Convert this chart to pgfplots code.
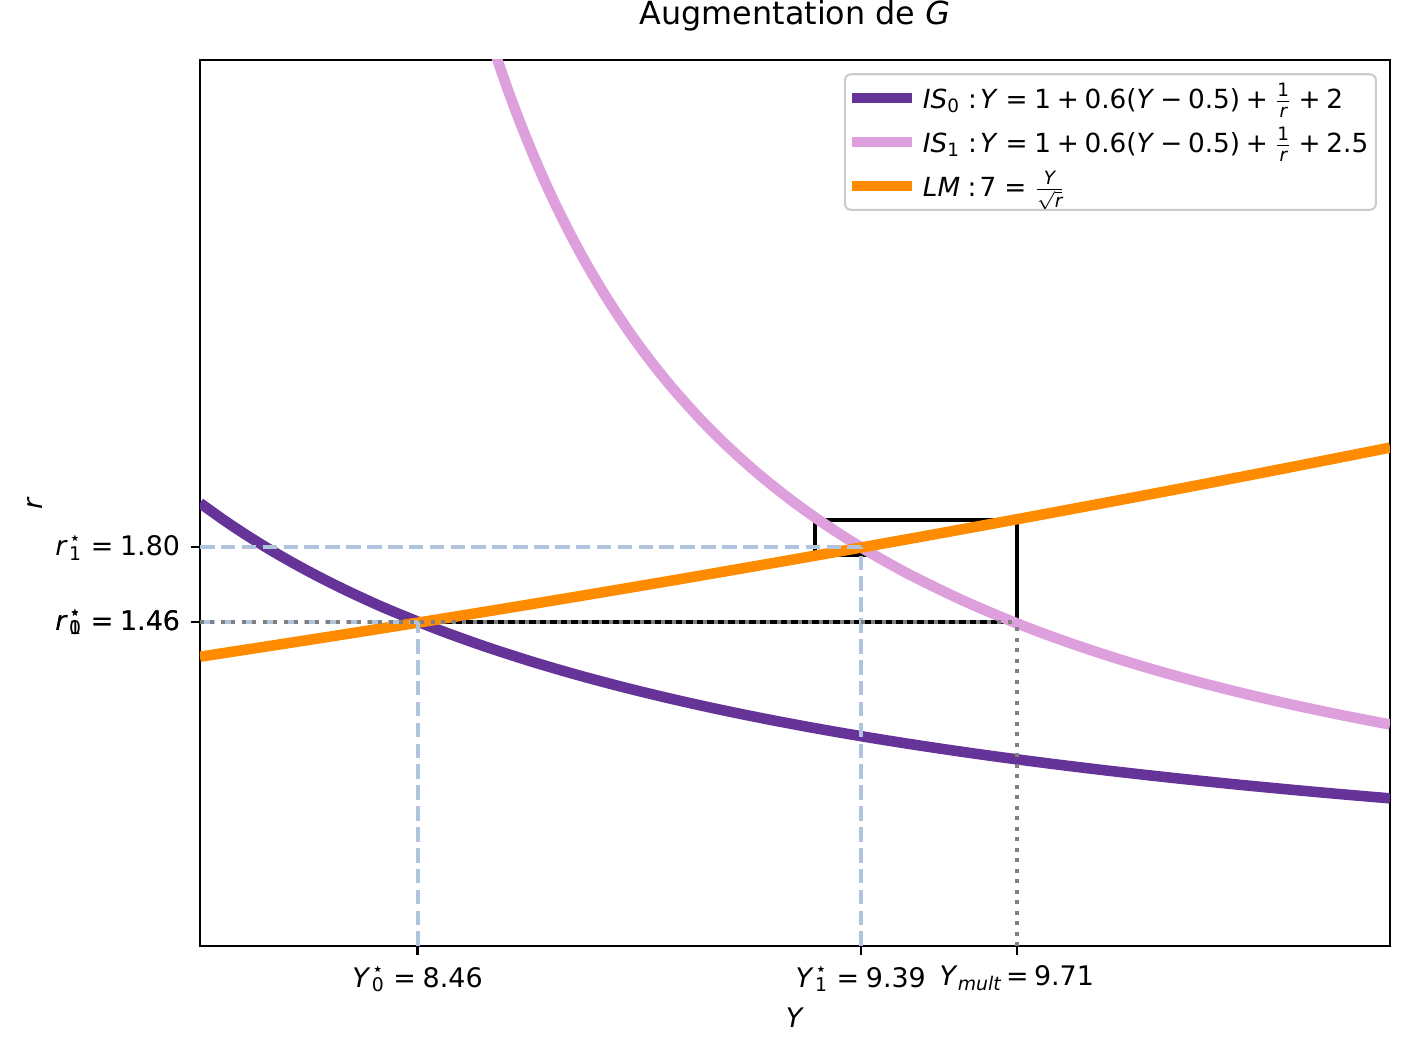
\documentclass[border=0pt]{standalone}
\usepackage{fontspec}
\setmainfont{DejaVu Sans}
\usepackage{amsmath}
\usepackage{pgfplots}
\pgfplotsset{compat=1.18}

\definecolor{rpurple}{HTML}{663399}
\definecolor{plumc}{HTML}{DDA0DD}
\definecolor{dorange}{HTML}{FF8C00}
\definecolor{lsblue}{HTML}{B0C4DE}
\definecolor{mgray}{HTML}{808080}

\newcommand\vs[3]{\textit{#1}\kern0.05em\rlap{\textsuperscript{#3}}\textsubscript{#2}}
\newcommand\eq{\kern0.3em=\kern0.25em}
\newcommand\eqs{\kern0.12em=\kern0.2em}
\newcommand\pl{\kern0.22em+\kern0.22em}
\newcommand\mi{\kern0.22em−\kern0.22em}
\newcommand\col{\kern0.28em:\kern0.12em}

\begin{document}
\begin{tikzpicture}
\begin{axis}[
  at={(0,0)}, anchor=south west,
  scale only axis, width=389.2pt, height=289.8pt,
  xmin=8, xmax=10.5, ymin=0, ymax=4,
  axis line style={line width=0.69pt},
  tick style={black, line width=0.69pt},
  tick align=outside, major tick length=3pt,
  xtick pos=left, ytick pos=left,
  xtick={8.457,9.388,9.716},
  xticklabels={\vs{Y}{0}{⋆}\eq 8.46, \vs{Y}{1}{⋆}\eq 9.39, \textit{Y}\textsubscript{\textit{mult}}\eqs 9.71},
  ytick={1.462,1.80},
  yticklabels={\vs{r}{0}{⋆}\eq 1.46, \vs{r}{1}{⋆}\eq 1.80},
  extra y ticks={1.462},
  extra y tick labels={\vs{r}{1}{⋆}\eq 1.46},
  ticklabel style={font=\fontsize{8.8}{10}\selectfont},
  xlabel={\textit{Y}}, ylabel={\textit{r}},
  label style={font=\fontsize{8.8}{10}\selectfont},
  xlabel style={at={(axis description cs:0.5,-0.0811)}, anchor=center},
  ylabel style={at={(axis description cs:-0.1388,0.5)}, anchor=center},
  title={Augmentation de \textit{G}},
  title style={at={(axis description cs:0.5,1.0193)}, anchor=base, font=\fontsize{10.4}{12}\selectfont},
  legend style={at={(axis description cs:0.989,0.985)}, anchor=north east,
    draw=black!20, line width=0.69pt, rounded corners=2pt,
    inner xsep=0.5pt, inner ysep=1pt, row sep=0.8pt,
    font=\fontsize{8.6}{10}\selectfont, cells={anchor=west}},
  legend image code/.code={\draw[#1] (0pt,0pt) -- (19.6pt,0pt);},
]
% cobweb (multiplier)
\addplot[black, line width=1.2pt, forget plot] coordinates {
(8.457,1.462) (9.716,1.462) (9.716,1.923) (9.292,1.923) (9.292,1.765)
(9.4167,1.765) (9.4167,1.8097) (9.3815,1.8097) (9.3815,1.7962)
(9.3919,1.7962) (9.3919,1.8001) (9.3888,1.8001)};

% IS0
\addplot[rpurple, line width=3.45pt, smooth] coordinates {
(8.0,2.0) (8.05,1.92308) (8.1,1.85185) (8.15,1.78571) (8.2,1.72414)
(8.25,1.66667) (8.3,1.61290) (8.35,1.5625) (8.4,1.51515)
(8.5,1.42857) (8.6,1.35135) (8.7,1.28205) (8.8,1.21951) (8.9,1.16279)
(9.0,1.11111) (9.1,1.06383) (9.2,1.02041) (9.3,0.98039) (9.4,0.94340)
(9.5,0.90909) (9.6,0.87719) (9.7,0.84746) (9.8,0.81967) (9.9,0.79365)
(10.0,0.76923) (10.1,0.74627) (10.2,0.72464) (10.3,0.70423) (10.4,0.68493)
(10.5,0.66667)};
\addlegendentry{\textit{IS}\textsubscript{0}\col\textit{Y}\eq 1\pl 0.6(\textit{Y}\mi 0.5)\pl$\frac{\text{1}}{\text{\itshape r}}$\pl 2}

% IS1
\addplot[plumc, line width=3.45pt, smooth] coordinates {
(8.6,4.16667) (8.625,4.0) (8.65,3.84615) (8.675,3.7037) (8.7,3.57143)
(8.725,3.44828) (8.75,3.33333) (8.775,3.22581) (8.8,3.125) (8.825,3.0303)
(8.85,2.94118) (8.875,2.85714) (8.9,2.77778) (8.925,2.7027) (8.95,2.63158)
(8.975,2.5641) (9.0,2.5) (9.05,2.38095)
(9.1,2.27273) (9.15,2.17391) (9.2,2.08333) (9.25,2.0) (9.3,1.92308)
(9.35,1.85185) (9.4,1.78571) (9.45,1.72414) (9.5,1.66667) (9.6,1.5625)
(9.7,1.47059) (9.8,1.38889) (9.9,1.31579) (10.0,1.25) (10.1,1.19048)
(10.2,1.13636) (10.3,1.08696) (10.4,1.04167) (10.5,1.0)};
\addlegendentry{\textit{IS}\textsubscript{1}\col\textit{Y}\eq 1\pl 0.6(\textit{Y}\mi 0.5)\pl$\frac{\text{1}}{\text{\itshape r}}$\pl 2.5}

% LM
\addplot[dorange, line width=3.45pt, smooth] coordinates {
(8.0,1.30612) (8.25,1.38903) (8.5,1.47449) (8.75,1.5625) (9.0,1.65306)
(9.25,1.74617) (9.5,1.84184) (9.75,1.94005) (10.0,2.04082) (10.25,2.14413)
(10.5,2.25)};
\addlegendentry{\textit{LM}\col 7\eq$\frac{\text{\itshape Y}}{\sqrt{\text{\itshape r}}}$}

% reference lines
\addplot[lsblue, line width=1.3pt, dash pattern=on 4.77pt off 2.06pt, forget plot] coordinates {(8,1.462) (8.457,1.462)};
\addplot[lsblue, line width=1.3pt, dash pattern=on 4.77pt off 2.06pt, forget plot] coordinates {(8.457,0) (8.457,1.462)};
\addplot[lsblue, line width=1.3pt, dash pattern=on 4.77pt off 2.06pt, forget plot] coordinates {(8,1.80) (9.388,1.80)};
\addplot[lsblue, line width=1.3pt, dash pattern=on 4.77pt off 2.06pt, forget plot] coordinates {(9.388,0) (9.388,1.80)};
\addplot[mgray, line width=1.3pt, dash pattern=on 1.3pt off 2.13pt, forget plot] coordinates {(8,1.462) (9.716,1.462)};
\addplot[mgray, line width=1.3pt, dash pattern=on 1.3pt off 2.13pt, forget plot] coordinates {(9.716,0) (9.716,1.462)};
\end{axis}
\pgfresetboundingbox
\path (-65.4pt,-35.3pt) rectangle (395.4pt,309.4pt);
\end{tikzpicture}
\end{document}
